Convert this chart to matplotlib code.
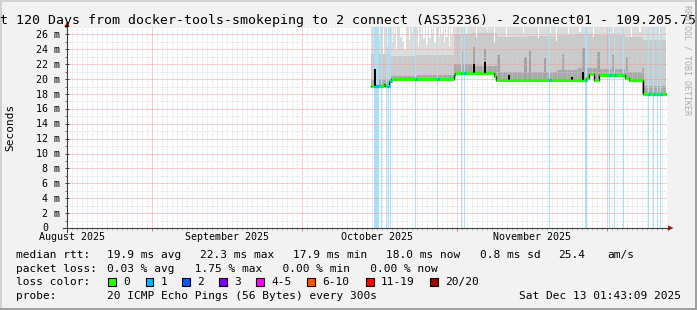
"""
Smokeping style latency chart: last 120 days, median rtt with smoke and loss colours.
"""

import datetime as dt
import numpy as np
import matplotlib
matplotlib.use('Agg')
import matplotlib.pyplot as plt
import matplotlib.dates as mdates
import matplotlib.ticker as mticker
from matplotlib.patches import Rectangle, Polygon
from matplotlib.lines import Line2D

# ---------------------------------------------------------------- data
# time window of the graph
win_start = dt.datetime(2025, 8, 15, 1, 43, 9)
win_days = 120

# median rtt (ms) as steps: segment start (days after window start) -> value
med_t = [60.8, 63.3, 63.6, 64.4, 64.7, 77.3, 77.6, 85.3, 85.7,
         103.7, 104.3, 105.3, 106.4, 111.6, 112.3, 115.1]
med_v = [19.1, 19.35, 19.1, 19.7, 19.95, 20.5, 20.8, 20.4, 19.9,
         20.2, 20.7, 19.9, 20.5, 20.2, 19.9, 18.05]
med_end = 119.7

# short median spikes (drawn black)
spike_t = [61.6, 81.3, 83.5, 88.4, 100.9, 103.1]
spike_v = [21.4, 22.0, 22.3, 20.6, 20.3, 21.0]

# smoke: upper edges of the mid and dark grey bands
smoke_t = [60.8, 64.7, 70.0, 77.3, 81.0, 86.0, 92.0, 98.0, 102.0, 106.0, 111.6, 115.1]
smoke_mid = [23.4, 23.1, 23.2, 26.0, 26.2, 25.7, 25.8, 25.9, 26.0, 25.9, 25.6, 25.2]
smoke_dark = [19.9, 20.4, 20.5, 22.0, 21.8, 21.0, 20.9, 21.2, 21.5, 21.3, 21.0, 19.1]

# darker vertical streaks inside the smoke
streak_t = [61.6, 79.0, 81.4, 83.6, 86.3, 91.7, 92.6, 95.6, 99.2, 103.3, 106.3, 109.3, 112.0, 115.2]
streak_v = [23.5, 23.6, 24.3, 24.0, 23.2, 23.0, 23.8, 22.9, 23.4, 24.2, 23.6, 23.3, 23.0, 21.5]

# places where the slowest pings stayed below the top of the graph
dip_t = [61.9, 62.5, 63.3, 64.1, 65.1, 65.5, 65.9, 66.8, 67.2, 67.6, 68.5, 69.1, 70.3, 70.9,
         71.4, 72.0, 72.6, 73.1, 73.6, 74.5, 75.0, 75.5, 76.0, 76.5, 77.0,
         78.9, 79.9, 81.9, 84.1, 85.5, 87.9, 91.3, 94.3, 96.6, 97.9, 100.3, 102.6, 105.3,
         109.3, 112.9, 114.6, 116.3, 118.6]
dip_v = [25.2, 26.0, 23.4, 24.4, 24.8, 26.1, 24.0, 25.7, 25.0, 24.0, 25.3, 26.0, 24.4, 25.9,
         25.5, 24.6, 25.5, 26.2, 24.8, 25.7, 26.0, 24.8, 25.6, 24.4, 26.1,
         25.3, 26.2, 25.7, 26.3, 24.8, 25.7, 26.2, 25.5, 26.2, 25.1, 26.0, 26.3, 25.7,
         26.2, 25.7, 26.3, 25.1, 26.0]

# packet loss events (1 of 20 lost): start and duration in days
loss_t = [61.4, 62.7, 63.7, 64.2, 64.65, 69.6, 74.05, 78.7, 79.45, 96.45,
          103.5, 108.4, 109.45, 111.1, 116.25, 117.25, 117.95, 118.6]
loss_w = [1.0, 0.2, 0.2, 0.2, 0.2, 0.2, 0.2, 0.2, 0.2, 0.2,
          0.4, 0.2, 0.2, 0.2, 0.2, 0.2, 0.2, 0.2]

loss_labels = ['0', '1', '2', '3', '4-5', '6-10', '11-19', '20/20']
loss_colors = ['#26ff00', '#00b8ff', '#0059ff', '#7e00ff', '#ff00ff', '#ff5500', '#ff0000', '#a10000']

title = 'Last 120 Days from docker-tools-smokeping to 2 connect (AS35236) - 2connect01 - 109.205.75.'
rtt_stats = ['19.9 ms avg', '22.3 ms max', '17.9 ms min', '18.0 ms now', '0.8 ms sd', '25.4', 'am/s']
loss_stats = '0.03 % avg   1.75 % max   0.00 % min   0.00 % now'
probe_text = '20 ICMP Echo Pings (56 Bytes) every 300s'
stamp_text = 'Sat Dec 13 01:43:09 2025'

# ---------------------------------------------------------------- layout (pixels from top-left)
W, H = 697, 310
X0, X1, Y0, Y1 = 67, 667, 228, 27
MONO = 'DejaVu Sans Mono'


def step_eval(breaks, vals, x):
    i = np.searchsorted(breaks, x, side='right') - 1
    return np.asarray(vals)[np.clip(i, 0, len(vals) - 1)]


def ftxt(x, y, s, **kw):
    # text placed by pixel position, y is the baseline
    kw.setdefault('va', 'baseline')
    kw.setdefault('family', MONO)
    kw.setdefault('fontsize', 8)
    return fig.text(x / W, 1 - y / H, s, **kw)


def fline(xs, ys, **kw):
    fig.add_artist(Line2D([x / W for x in xs], [1 - y / H for y in ys],
                          transform=fig.transFigure, **kw))


fig = plt.figure(figsize=(W / 100, H / 100), dpi=100, facecolor='#f2f2f2')
ax = fig.add_axes([X0 / W, 1 - Y0 / H, (X1 - X0) / W, (Y0 - Y1) / H])
ax.set_facecolor('white')

t0 = mdates.date2num(win_start)
ymax = 27.0
top = 27.5

# smoke
grid_t = np.unique(np.r_[med_t, smoke_t, med_end])
med_g = step_eval(med_t, med_v, grid_t)
mid_g = step_eval(smoke_t, smoke_mid, grid_t)
dark_g = step_eval(smoke_t, smoke_dark, grid_t)
ax.fill_between(t0 + grid_t, med_g - 0.25, top, step='post', color='#dddddd', lw=0, zorder=1)
ax.fill_between(t0 + grid_t, med_g, mid_g, step='post', color='#cacaca', lw=0, zorder=1.1)
ax.fill_between(t0 + grid_t, med_g, dark_g, step='post', color='#a9a9a9', lw=0, zorder=1.2)
streak_b = step_eval(med_t, med_v, np.array(streak_t))
ax.bar(t0 + np.array(streak_t), np.array(streak_v) - streak_b, bottom=streak_b, width=0.45,
       color='#a2a2a2', lw=0, zorder=1.25)
ax.bar(t0 + np.array(dip_t), top - np.array(dip_v), bottom=dip_v, width=0.22,
       color='white', lw=0, zorder=1.3)

# loss background
ax.bar(t0 + np.array(loss_t), top, width=loss_w, align='edge', color='#a6e3fb', lw=0, zorder=1.5)

# median line
ax.step(t0 + np.r_[med_t, med_end], np.r_[med_v, med_v[-1]], where='post',
        color='black', lw=1.0, zorder=3)
ax.hlines(med_v, t0 + np.array(med_t), t0 + np.r_[med_t[1:], med_end],
          color=loss_colors[0], lw=2.3, zorder=3.2)
loss_med = step_eval(med_t, med_v, np.array(loss_t))
ax.hlines(loss_med, t0 + np.array(loss_t), t0 + np.array(loss_t) + np.maximum(loss_w, 0.3),
          color=loss_colors[1], lw=2.3, zorder=3.25)
ax.vlines(t0 + np.array(spike_t), step_eval(med_t, med_v, np.array(spike_t)), spike_v,
          color='black', lw=1.4, zorder=3.3)

# axes, grid
ax.set_xlim(t0, t0 + win_days)
ax.set_ylim(0, ymax)
ax.xaxis.set_major_locator(mdates.MonthLocator())
ax.xaxis.set_minor_locator(mdates.DayLocator())
ax.yaxis.set_major_locator(mticker.MultipleLocator(2))
ax.yaxis.set_minor_locator(mticker.MultipleLocator(1))
ax.set_axisbelow(False)
ax.grid(which='major', color='#f09c9c', lw=0.72, ls=(0, (1, 1)))
ax.grid(which='minor', color='#d2d2d2', lw=0.72, ls=(0, (1, 2)))
ax.tick_params(labelbottom=False, labelleft=False)
ax.tick_params(axis='y', which='major', direction='inout', length=2.9, width=0.72, color='#404040')
ax.tick_params(axis='y', which='minor', direction='out', length=1.44, width=0.72, color='#707070')
ax.tick_params(axis='x', which='major', direction='out', length=2.2, width=0.72, color='#e07070')
ax.tick_params(axis='x', which='minor', direction='out', length=1.44, width=0.72, color='#b0b0b0')
for s in ax.spines.values():
    s.set_visible(False)

# y tick labels
for v in ax.get_yticks():
    if v < 0 or v > ymax:
        continue
    lab = '%d m' % v if v > 0 else '0'
    dx, dy = (-7, -3.6) if v > 0 else (-19, -2.6)
    ax.annotate(lab, xy=(0, v), xycoords=('axes fraction', 'data'), xytext=(dx, dy),
                textcoords='offset pixels', ha='right', va='baseline', family=MONO, fontsize=7.2)

# month labels, centred mid month
for m in (8, 9, 10, 11):
    d = dt.datetime(2025, m, 16)
    ax.annotate(d.strftime('%B %Y'), xy=(mdates.date2num(d), 0), xycoords=('data', 'axes fraction'),
                xytext=(0, -12), textcoords='offset pixels', ha='center', va='baseline',
                family=MONO, fontsize=7.2)

# axis lines with arrows
fline([X0, X0], [232, 26], color='#404040', lw=0.8)
fline([63, 668], [Y0, Y0], color='#404040', lw=0.8)
fig.add_artist(Polygon([((X0) / W, 1 - 21.5 / H), ((X0 - 2.7) / W, 1 - 27 / H), ((X0 + 2.7) / W, 1 - 27 / H)],
                       closed=True, transform=fig.transFigure, color='#9b1c1c', lw=0))
fig.add_artist(Polygon([(673.5 / W, 1 - Y0 / H), (668 / W, 1 - (Y0 - 2.7) / H), (668 / W, 1 - (Y0 + 2.7) / H)],
                       closed=True, transform=fig.transFigure, color='#9b1c1c', lw=0))

# texts
ftxt(-24, 24, title, fontsize=9.5)
fig.text(10.5 / W, 1 - 127.5 / H, 'Seconds', rotation=90, ha='center', va='center', family=MONO, fontsize=8)
fig.text(687.5 / W, 1 - 60 / H, 'RRDTOOL / TOBI OETIKER', rotation=270, ha='center', va='center',
         family=MONO, fontsize=6, color='#ababab')

ftxt(16, 257.7, 'median rtt:')
rtt_x = [107.3, 200.0, 293.3, 386.3, 479.7, 558.0, 607.0]
for x, s in zip(rtt_x, rtt_stats):
    ftxt(x, 257.7, s)
ftxt(16, 271.5, 'packet loss:')
ftxt(107.3, 271.5, loss_stats)
ftxt(16, 285.3, 'loss color:')
sq_x = [108.3, 145.7, 182.3, 219.3, 256.3, 307.3, 366.0, 430.3]
for x, lab, c in zip(sq_x, loss_labels, loss_colors):
    fig.add_artist(Rectangle((x / W, 1 - 286 / H), 7.7 / W, 7.7 / H, transform=fig.transFigure,
                             facecolor=c, edgecolor='black', lw=0.8))
    ftxt(x + 15, 285.3, lab)
ftxt(16, 299.2, 'probe:')
ftxt(107.3, 299.2, probe_text)
ftxt(681, 299.2, stamp_text, ha='right')

# frame shading
fig.add_artist(Rectangle((0, 1 - 2 / H), 1, 2 / H, transform=fig.transFigure, color='#d2d2d2', lw=0))
fig.add_artist(Rectangle((0, 0), 2 / W, 1, transform=fig.transFigure, color='#d2d2d2', lw=0))
fig.add_artist(Rectangle((694.5 / W, 0), 2.5 / W, 1, transform=fig.transFigure, color='#a0a0a0', lw=0))
fig.add_artist(Rectangle((0, 0), 1, 2.5 / H, transform=fig.transFigure, color='#a0a0a0', lw=0))

fig.savefig('out.png', dpi=100, facecolor=fig.get_facecolor())
